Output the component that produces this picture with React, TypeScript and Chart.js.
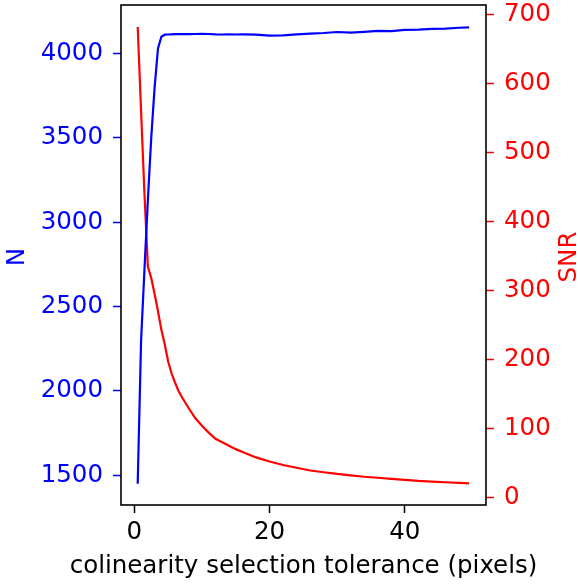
import React, { useEffect, useRef } from "react";
import { Chart, registerables } from "chart.js";

Chart.register(...registerables);

const xValues = [0.5, 1, 1.5, 2, 2.5, 3, 3.5, 4, 4.5, 5, 5.5, 6, 6.5, 7, 8, 9, 10, 11, 12, 13, 14, 15, 16, 18, 20, 22, 24, 26, 28, 30, 32, 34, 36, 38, 40, 42, 44, 46, 48, 49.5];
const nValues = [1450, 2300, 2720, 3130, 3500, 3800, 4030, 4100, 4112, 4113, 4114, 4115, 4115, 4116, 4115, 4116, 4117, 4116, 4114, 4113, 4114, 4113, 4114, 4112, 4106, 4108, 4114, 4118, 4122, 4128, 4124, 4129, 4135, 4133, 4140, 4142, 4147, 4148, 4153, 4155];
const snrValues = [682, 560, 440, 335, 318, 295, 270, 243, 222, 197, 180, 167, 155, 146, 130, 115, 104, 94, 85, 80, 75, 70, 66, 58, 52, 47, 43, 39, 36.5, 34, 32, 30, 28.5, 27, 25.5, 24, 23, 22, 21, 20.5];
const xTicks = [0, 20, 40];
const nTicks = [1500, 2000, 2500, 3000, 3500, 4000];
const snrTicks = [0, 100, 200, 300, 400, 500, 600, 700];

const FONT = '"DejaVu Sans", sans-serif';
const FS = 24.5;

const noPad = (s: any) => {
  s.paddingTop = 0;
  s.paddingBottom = 0;
  s.paddingLeft = 0;
  s.paddingRight = 0;
};

export default function App() {
  const ref = useRef<HTMLCanvasElement | null>(null);
  useEffect(() => {
    document.body.style.margin = "0";
    const canvas = ref.current!;
    const titles = {
      id: "titles",
      afterDraw(chart: any) {
        const { ctx, chartArea } = chart;
        ctx.save();
        ctx.strokeStyle = "#000";
        ctx.lineWidth = 1.6;
        ctx.strokeRect(chartArea.left, chartArea.top, chartArea.right - chartArea.left, chartArea.bottom - chartArea.top);
        ctx.font = `${FS}px ${FONT}`;
        ctx.textAlign = "center";
        ctx.textBaseline = "middle";
        ctx.fillStyle = "#000";
        ctx.fillText("colinearity selection tolerance (pixels)", (chartArea.left + chartArea.right) / 2, 567);
        ctx.save();
        ctx.fillStyle = "#0000ff";
        ctx.translate(18, 257);
        ctx.rotate(-Math.PI / 2);
        ctx.fillText("N", 0, 0);
        ctx.restore();
        ctx.save();
        ctx.fillStyle = "#ff0000";
        ctx.translate(570, 257);
        ctx.rotate(-Math.PI / 2);
        ctx.fillText("SNR", 0, 0);
        ctx.restore();
        ctx.restore();
      },
    };
    const chart = new Chart(canvas, {
      type: "line",
      data: {
        datasets: [
          {
            label: "N",
            data: xValues.map((x, i) => ({ x, y: nValues[i] })),
            borderColor: "#0000ff",
            borderWidth: 2.2,
            pointRadius: 0,
            yAxisID: "yN",
            tension: 0,
          },
          {
            label: "SNR",
            data: xValues.map((x, i) => ({ x, y: snrValues[i] })),
            borderColor: "#ff0000",
            borderWidth: 2.2,
            pointRadius: 0,
            yAxisID: "ySNR",
            tension: 0,
          },
        ],
      },
      options: {
        animation: false,
        responsive: false,
        layout: { padding: { top: 5, left: 0, right: 0, bottom: 0 } },
        plugins: { legend: { display: false }, tooltip: { enabled: false } },
        scales: {
          x: {
            type: "linear",
            min: -1.97,
            max: 52.0,
            afterBuildTicks: (s: any) => { s.ticks = xTicks.map((v) => ({ value: v })); },
            afterFit: (s: any) => { s.height = 79; noPad(s); },
            grid: { drawOnChartArea: false, drawTicks: true, tickLength: 8, tickColor: "#000", tickWidth: 1.5 },
            border: { display: false },
            ticks: { color: "#000", font: { family: FONT, size: FS }, padding: 5, maxRotation: 0, callback: (v: any) => String(v) },
          },
          yN: {
            type: "linear",
            position: "left",
            min: 1324,
            max: 4288,
            afterBuildTicks: (s: any) => { s.ticks = nTicks.map((v) => ({ value: v })); },
            afterFit: (s: any) => { s.width = 121; noPad(s); },
            grid: { drawOnChartArea: false, drawTicks: true, tickLength: 8, tickColor: "#0000ff", tickWidth: 1.5 },
            border: { display: false },
            ticks: { color: "#0000ff", font: { family: FONT, size: FS }, padding: 10, callback: (v: any) => String(v) },
          },
          ySNR: {
            type: "linear",
            position: "right",
            min: -11,
            max: 714,
            afterBuildTicks: (s: any) => { s.ticks = snrTicks.map((v) => ({ value: v })); },
            afterFit: (s: any) => { s.width = 94; noPad(s); },
            grid: { drawOnChartArea: false, drawTicks: true, tickLength: 8, tickColor: "#ff0000", tickWidth: 1.5 },
            border: { display: false },
            ticks: { color: "#ff0000", font: { family: FONT, size: FS }, padding: 10, callback: (v: any) => String(v) },
          },
        },
      },
      plugins: [titles],
    });
    return () => chart.destroy();
  }, []);
  return (
    <div style={{ width: 580, height: 584 }}>
      <canvas ref={ref} width={580} height={584} style={{ display: "block" }} />
    </div>
  );
}
